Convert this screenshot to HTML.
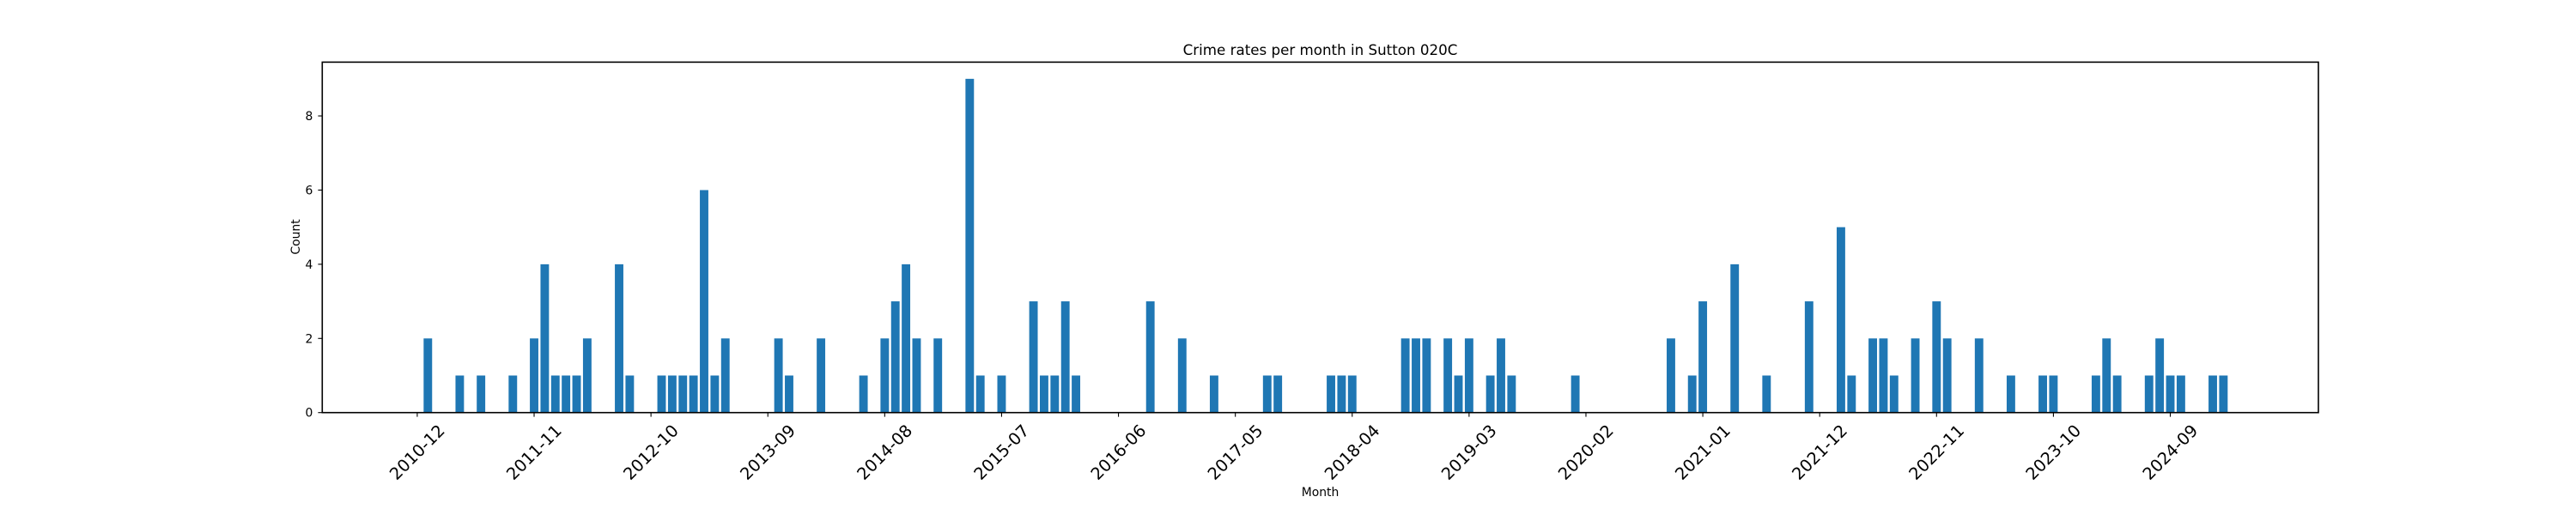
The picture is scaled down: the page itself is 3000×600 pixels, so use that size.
<!DOCTYPE html>
<html><head><meta charset="utf-8"><title>Crime rates per month in Sutton 020C</title>
<style>html,body{margin:0;padding:0;background:#fff;width:3000px;height:600px;overflow:hidden}svg text{font-family:"DejaVu Sans","Liberation Sans",sans-serif;fill:#000}</style>
</head><body>
<svg id="chart" width="3000" height="600" viewBox="0 0 3000 600" xmlns="http://www.w3.org/2000/svg">
<rect width="3000" height="600" fill="#fff"/>
<g id="bars"></g>
<g id="axes"></g>
<text x="1537.5" y="64" text-anchor="middle" font-size="16.7">Crime rates per month in Sutton 020C</text>
<text x="1537.5" y="578" text-anchor="middle" font-size="13.9">Month</text>
<text transform="translate(349,276) rotate(-90)" text-anchor="middle" font-size="13.9">Count</text>
</svg>
<script>
const startYear = 2010;
const startMonth = 12;
const values = [
0,2,0,0,1,0,1,0,0,1,
0,2,4,1,1,1,2,0,0,4,
1,0,0,1,1,1,1,6,1,2,
0,0,0,0,2,1,0,0,2,0,
0,0,1,0,2,3,4,2,0,2,
0,0,9,1,0,1,0,0,3,1,
1,3,1,0,0,0,0,0,0,3,
0,0,2,0,0,1,0,0,0,0,
1,1,0,0,0,0,1,1,1,0,
0,0,0,2,2,2,0,2,1,2,
0,1,2,1,0,0,0,0,0,1,
0,0,0,0,0,0,0,0,2,0,
1,3,0,0,4,0,0,1,0,0,
0,3,0,0,5,1,0,2,2,1,
0,2,0,3,2,0,0,2,0,0,
1,0,0,1,1,0,0,0,1,2,
1,0,0,1,2,1,1,0,0,1,
1
];
const yTicks = [0,2,4,6,8];
const xTickStep = 11;

const categories = values.map((v,i)=>{
  const m = startMonth - 1 + i;
  const y = startYear + Math.floor(m/12);
  const mm = (m%12)+1;
  return y + '-' + String(mm).padStart(2,'0');
});

const L=375.3, R=2700, T=72.4, B=480.7;
const n = categories.length;
const span = (n-1) + 0.8;
const xmin = -0.4 - 0.05*span, xmax = (n-1) + 0.4 + 0.05*span;
const ymax = Math.max(...values) * 1.05;
const xs = i => L + (i - xmin) / (xmax - xmin) * (R - L);
const ys = v => B - v / ymax * (B - T);
const NS = 'http://www.w3.org/2000/svg';
const bars = document.getElementById('bars');
const axes = document.getElementById('axes');
const bw = 0.8 * (R - L) / (xmax - xmin);

values.forEach((v,i)=>{
  if (v <= 0) return;
  const r = document.createElementNS(NS,'rect');
  r.setAttribute('x', xs(i) - bw/2);
  r.setAttribute('y', ys(v));
  r.setAttribute('width', bw);
  r.setAttribute('height', B - ys(v));
  r.setAttribute('fill', '#1f77b4');
  
  
  bars.appendChild(r);
});

const frame = document.createElementNS(NS,'rect');
frame.setAttribute('x', L); frame.setAttribute('y', T);
frame.setAttribute('width', R - L); frame.setAttribute('height', B - T);
frame.setAttribute('fill', 'none'); frame.setAttribute('stroke', '#000'); frame.setAttribute('stroke-width', '1.6');


axes.appendChild(frame);

yTicks.forEach(t=>{
  const y = ys(t);
  const ln = document.createElementNS(NS,'line');
  ln.setAttribute('x1', L - 4.9); ln.setAttribute('x2', L);
  ln.setAttribute('y1', y); ln.setAttribute('y2', y);
  ln.setAttribute('stroke', '#000'); ln.setAttribute('stroke-width', '1.1');
  
  
  axes.appendChild(ln);
  const tx = document.createElementNS(NS,'text');
  tx.setAttribute('x', L - 11); tx.setAttribute('y', y + 5);
  tx.setAttribute('text-anchor', 'end'); tx.setAttribute('font-size', '13.9');
  tx.textContent = t;
  
  
  axes.appendChild(tx);
});

for (let i = 0; i < n; i += xTickStep) {
  const x = xs(i);
  const ln = document.createElementNS(NS,'line');
  ln.setAttribute('x1', x); ln.setAttribute('x2', x);
  ln.setAttribute('y1', B); ln.setAttribute('y2', B + 4.9);
  ln.setAttribute('stroke', '#000'); ln.setAttribute('stroke-width', '1.1');
  
  
  axes.appendChild(ln);
  const tx = document.createElementNS(NS,'text');
  tx.setAttribute('transform', 'translate(' + x + ',527) rotate(-45)');
  tx.setAttribute('text-anchor', 'middle'); tx.setAttribute('dominant-baseline', 'central');
  tx.setAttribute('font-size', '19.4');
  tx.textContent = categories[i];
  
  
  axes.appendChild(tx);
}
</script>
</body></html>
